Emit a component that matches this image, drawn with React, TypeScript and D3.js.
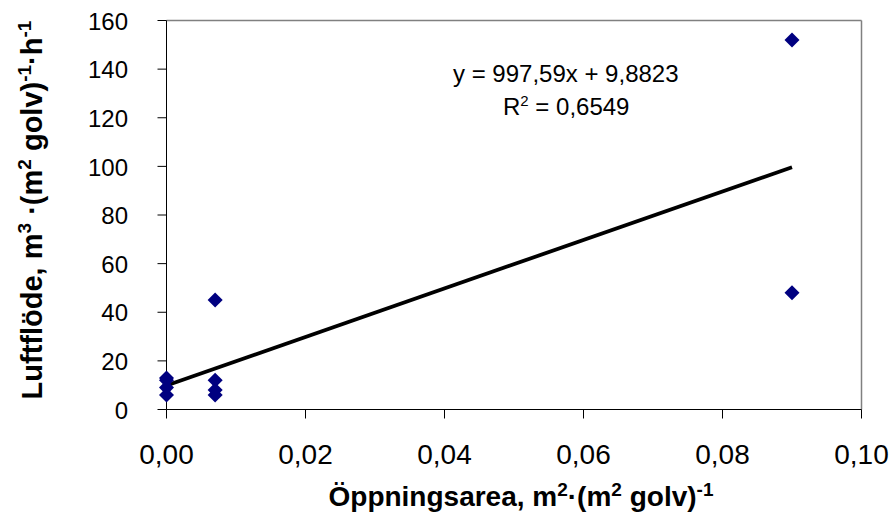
import * as d3 from "d3";

// opening area (m² per m² floor) and airflow readings
const openingArea = [0, 0, 0, 0, 0.007, 0.007, 0.007, 0.007, 0.09, 0.09];
const airflow = [13, 12, 9, 6, 45, 12, 8, 6, 152, 48];

const xTicks = [0, 0.02, 0.04, 0.06, 0.08, 0.1];
const yTicks = [0, 20, 40, 60, 80, 100, 120, 140, 160];

// trend line as printed on the chart
const slope = 997.59;
const intercept = 9.8823;
const rSquared = "0,6549";

const WIDTH = 894;
const HEIGHT = 525;
const FONT = "'Liberation Sans', Arial, Helvetica, sans-serif";

const comma = (s: string) => s.replace(".", ",");

export default function App() {
  const x = d3.scaleLinear().domain([0, 0.1]).range([166.5, 861.5]);
  const y = d3.scaleLinear().domain([0, 160]).range([409.5, 20.5]);

  const [xMin, xMax] = d3.extent(openingArea) as [number, number];
  const trend = d3
    .line<number>()
    .x((d) => x(d))
    .y((d) => y(slope * d + intercept))([xMin, xMax]);

  const diamond = d3.symbol(d3.symbolDiamond2, 144)() ?? "";

  return (
    <svg
      width={WIDTH}
      height={HEIGHT}
      style={{ position: "absolute", left: 0, top: 0, background: "#fff" }}
      fontFamily={FONT}
    >
      {/* plot frame: top and right grey */}
      <line x1={x(0)} x2={x(0.1)} y1={y(160)} y2={y(160)} stroke="#808080" strokeWidth={1.5} />
      <line x1={x(0.1)} x2={x(0.1)} y1={y(160)} y2={y(0)} stroke="#808080" strokeWidth={1.5} />

      {/* y axis */}
      <line x1={x(0)} x2={x(0)} y1={y(160)} y2={y(0)} stroke="#000" strokeWidth={1} />
      {yTicks.map((t) => (
        <g key={t} transform={`translate(0,${y(t)})`}>
          <line x1={x(0) - 9} x2={x(0)} stroke="#000" />
          <text x={128} dy="0.38em" textAnchor="end" fontSize={24}>
            {t}
          </text>
        </g>
      ))}

      {/* x axis */}
      <line x1={x(0)} x2={x(0.1)} y1={y(0)} y2={y(0)} stroke="#000" strokeWidth={1} />
      {xTicks.map((t) => (
        <g key={t} transform={`translate(${x(t)},${y(0)})`}>
          <line y1={0} y2={9} stroke="#000" />
          <text y={54.5} textAnchor="middle" fontSize={28}>
            {comma(d3.format(".2f")(t))}
          </text>
        </g>
      ))}

      {/* trend line */}
      <path d={trend ?? ""} fill="none" stroke="#000" strokeWidth={3.8} />

      {/* points */}
      {openingArea.map((v, i) => (
        <path
          key={i}
          d={diamond}
          transform={`translate(${x(v)},${y(airflow[i])})`}
          fill="#000080"
        />
      ))}

      {/* equation */}
      <text x={453} y={82} fontSize={24}>
        {`y = ${comma(String(slope))}x + ${comma(String(intercept))}`}
      </text>
      <text x={503} y={115} fontSize={24}>
        R<tspan fontSize={15} dy={-9}>2</tspan>
        <tspan dy={9}>{` = ${rSquared}`}</tspan>
      </text>

      {/* axis titles */}
      <text x={521} y={506} textAnchor="middle" fontSize={28} fontWeight="bold">
        Öppningsarea, m<tspan fontSize={19} dy={-10}>2</tspan>
        <tspan dy={10}>·(m</tspan>
        <tspan fontSize={19} dy={-10}>2</tspan>
        <tspan dy={10}> golv)</tspan>
        <tspan fontSize={19} dy={-10}>-1</tspan>
      </text>
      <text
        transform="translate(42,210) rotate(-90)"
        textAnchor="middle"
        fontSize={29}
        fontWeight="bold"
      >
        Luftflöde, m<tspan fontSize={19} dy={-11}>3</tspan>
        <tspan dy={11}> ·(m</tspan>
        <tspan fontSize={19} dy={-11}>2</tspan>
        <tspan dy={11}> golv)</tspan>
        <tspan fontSize={19} dy={-11}>-1</tspan>
        <tspan dy={11}>·h</tspan>
        <tspan fontSize={19} dy={-11}>-1</tspan>
      </text>
    </svg>
  );
}
